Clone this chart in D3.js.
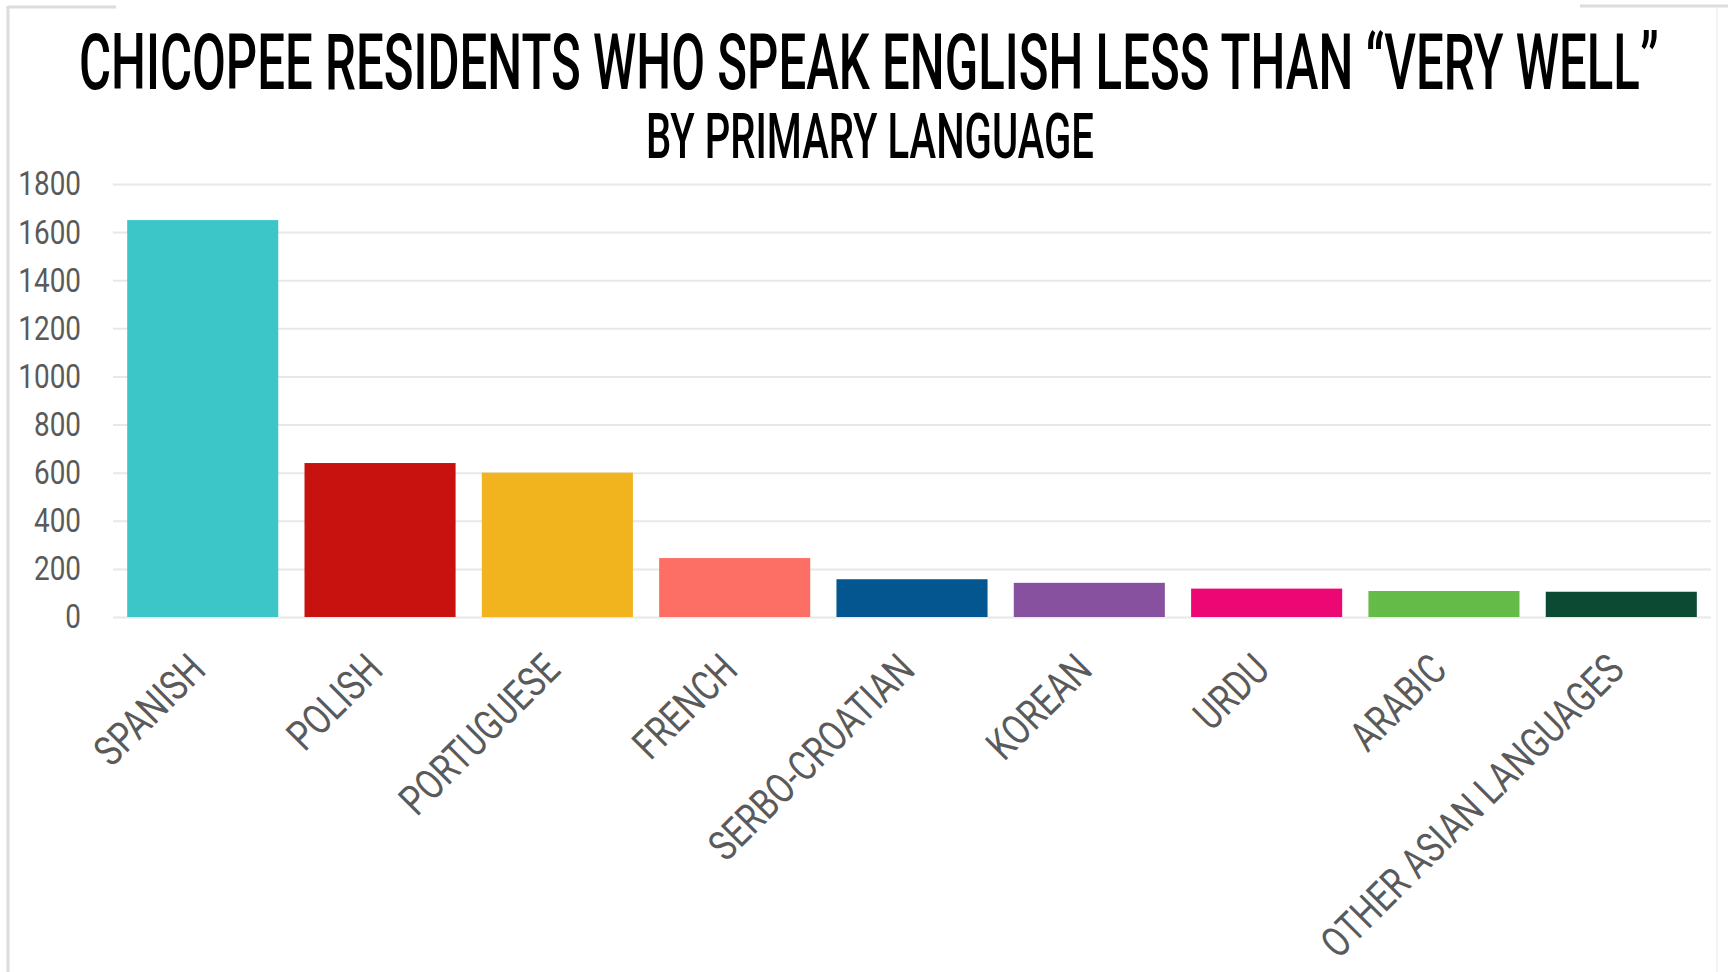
<!DOCTYPE html>
<html>
<head>
<meta charset="utf-8">
<script src="https://cdn.jsdelivr.net/npm/d3@7"></script>
<style>
  body { margin: 0; background: #fff; }
  text { font-family: Roboto, 'Open Sans', sans-serif; }
</style>
</head>
<body>
<script>
// chart data
const languages = ['SPANISH', 'POLISH', 'PORTUGUESE', 'FRENCH', 'SERBO-CROATIAN',
                   'KOREAN', 'URDU', 'ARABIC', 'OTHER ASIAN LANGUAGES'];
const speakers = [1650, 640, 600, 245, 157, 142, 118, 108, 105];
const barColours = ['#3dc6c8', '#c8120f', '#f1b31e', '#fd6e64', '#03568f',
                    '#87519f', '#ec0775', '#65bb47', '#0c4a33'];
const yTicks = [0, 200, 400, 600, 800, 1000, 1200, 1400, 1600, 1800];

const title = 'CHICOPEE RESIDENTS WHO SPEAK ENGLISH LESS THAN \u201CVERY WELL\u201D';
const subtitle = 'BY PRIMARY LANGUAGE';

const width = 1728, height = 972;
const plotLeft = 113, plotRight = 1711, plotTop = 184, plotBottom = 617;

// squeeze text horizontally to mimic the condensed face
function condense(sel, k) {
    sel.each(function() {
        const w = this.getComputedTextLength();
        d3.select(this)
            .attr('textLength', w * k)
            .attr('lengthAdjust', 'spacingAndGlyphs');
    });
}

const svg = d3.select('body')
    .append('svg')
    .attr('width', width)
    .attr('height', height);

svg.append('rect')
    .attr('width', width)
    .attr('height', height)
    .attr('fill', '#fff');

// frame remnants
const frame = svg.append('g').attr('stroke', '#dcdcdc').attr('stroke-width', 3).attr('fill', 'none');
frame.append('line').attr('x1', 8).attr('x2', 8).attr('y1', 6).attr('y2', height);
frame.append('line').attr('x1', 8).attr('x2', 116).attr('y1', 7).attr('y2', 7);
frame.append('line').attr('x1', 1580).attr('x2', width).attr('y1', 6).attr('y2', 6);
svg.append('line')
    .attr('x1', 1717).attr('x2', 1717).attr('y1', 8).attr('y2', height)
    .attr('stroke', '#f3f3f3').attr('stroke-width', 2);

// scales
const x = d3.scaleBand()
    .domain(languages)
    .range([plotLeft, plotRight])
    .paddingInner(0.148)
    .paddingOuter(0.08);

const y = d3.scaleLinear()
    .domain([0, 1800])
    .range([plotBottom, plotTop]);

// y axis with gridlines
const yAxis = svg.append('g')
    .attr('transform', `translate(${plotLeft},0)`)
    .call(d3.axisLeft(y)
        .tickValues(yTicks)
        .tickFormat(d3.format('d'))
        .tickSize(-(plotRight - plotLeft))
        .tickPadding(32));

yAxis.select('.domain').remove();
yAxis.selectAll('.tick line')
    .attr('stroke', '#e8e8e8')
    .attr('stroke-width', 2);
yAxis.selectAll('.tick text')
    .attr('fill', '#5a5a5a')
    .style('font-size', '34px')
    .call(condense, 0.82);

// bars
svg.append('g')
    .selectAll('rect')
    .data(speakers)
    .join('rect')
        .attr('x', (_, i) => x(languages[i]))
        .attr('y', d => y(d))
        .attr('width', x.bandwidth())
        .attr('height', d => y(0) - y(d))
        .attr('fill', (_, i) => barColours[i]);

// x axis labels, rotated
const xAxis = svg.append('g')
    .attr('transform', `translate(0,${plotBottom})`)
    .call(d3.axisBottom(x).tickSize(0));

xAxis.select('.domain').remove();
xAxis.selectAll('.tick text')
    .attr('x', 0)
    .attr('y', 0)
    .attr('dy', 0)
    .attr('text-anchor', 'end')
    .attr('transform', 'translate(5,55) rotate(-45)')
    .attr('fill', '#5a5a5a')
    .style('font-size', '42px')
    .call(condense, 0.79);

// titles: drawn at natural width, then squeezed to the reference width
function fitTitle(str, x0, y0, size, w) {
    const t = svg.append('text')
        .attr('fill', '#000')
        .style('font-size', size + 'px')
        .style('font-weight', 500)
        .text(str);
    const k = w / t.node().getComputedTextLength();
    t.attr('transform', `translate(${x0},${y0}) scale(${k},1)`);
}

fitTitle(title, 79, 89, 77, 1580);
fitTitle(subtitle, 646, 158, 63, 448);
</script>
</body>
</html>
